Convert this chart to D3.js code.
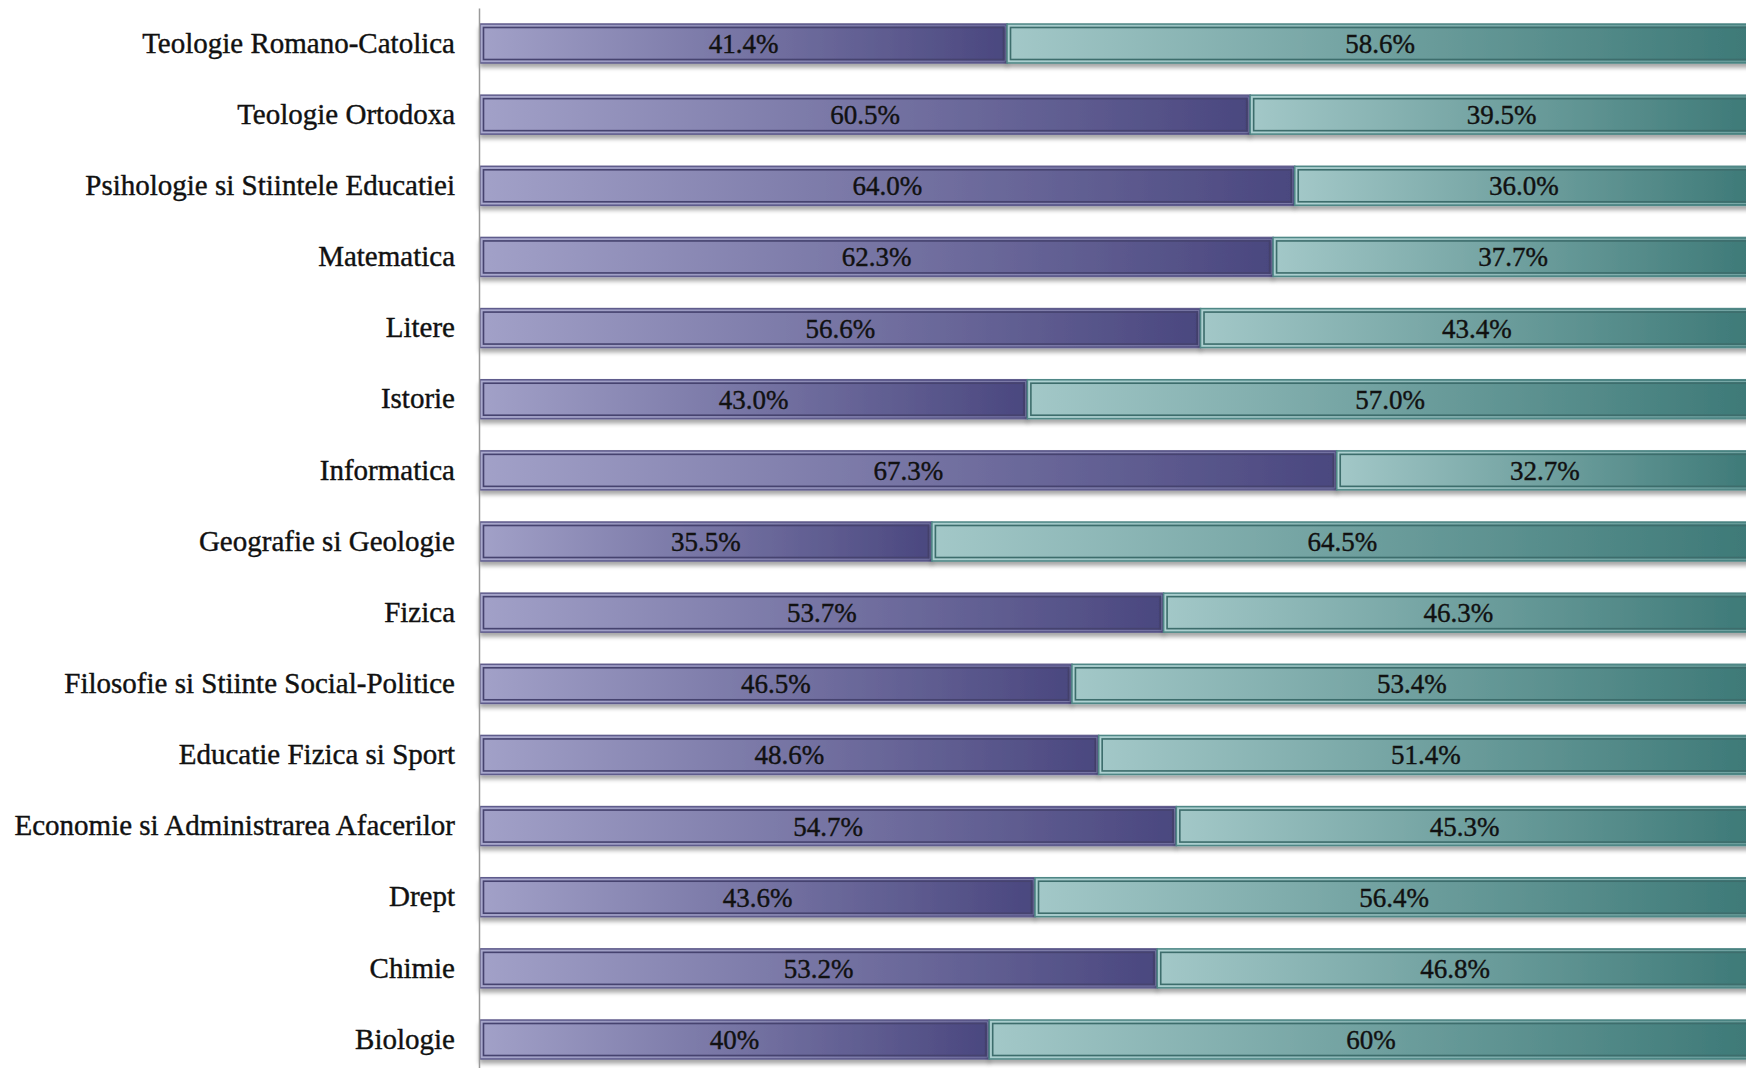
<!DOCTYPE html>
<html>
<head>
<meta charset="utf-8">
<script src="https://cdn.jsdelivr.net/npm/d3@7"></script>
<style>
  html, body { margin: 0; padding: 0; background: #fff; overflow: hidden; }
  svg { display: block; }
</style>
</head>
<body>
<div id="chart"></div>
<script>
const w = 1746;
const h = 1068;

const categories = [
  "Teologie Romano-Catolica", "Teologie Ortodoxa", "Psihologie si Stiintele Educatiei",
  "Matematica", "Litere", "Istorie", "Informatica", "Geografie si Geologie", "Fizica",
  "Filosofie si Stiinte Social-Politice", "Educatie Fizica si Sport",
  "Economie si Administrarea Afacerilor", "Drept", "Chimie", "Biologie"
];
const firstShare = [41.4, 60.5, 64.0, 62.3, 56.6, 43.0, 67.3, 35.5, 53.7, 46.5, 48.6, 54.7, 43.6, 53.2, 40];
const secondShare = [58.6, 39.5, 36.0, 37.7, 43.4, 57.0, 32.7, 64.5, 46.3, 53.4, 51.4, 45.3, 56.4, 46.8, 60];
const firstLabels = ["41.4%", "60.5%", "64.0%", "62.3%", "56.6%", "43.0%", "67.3%", "35.5%", "53.7%", "46.5%", "48.6%", "54.7%", "43.6%", "53.2%", "40%"];
const secondLabels = ["58.6%", "39.5%", "36.0%", "37.7%", "43.4%", "57.0%", "32.7%", "64.5%", "46.3%", "53.4%", "51.4%", "45.3%", "56.4%", "46.8%", "60%"];

const rows = categories.map((c, i) => ({
  cat: c, a: firstShare[i], b: secondShare[i], la: firstLabels[i], lb: secondLabels[i]
}));

const yScale = d3.scaleBand()
  .domain(categories)
  .range([8, 1075])
  .paddingInner(0.452)
  .paddingOuter(0.225);

const xScale = d3.scaleLinear()
  .domain([0, 100])
  .range([480, 1753]);

const svg = d3.select("#chart")
  .append("svg")
  .attr("width", w)
  .attr("height", h);

const defs = svg.append("defs");

const gradients = [
  { id: "gPurple", from: "#a2a1c8", to: "#4a477f" },
  { id: "gTeal", from: "#a3c8c8", to: "#3d7977" }
];
gradients.forEach((g) => {
  const lg = defs.append("linearGradient")
    .attr("id", g.id)
    .attr("x1", 0).attr("x2", 1).attr("y1", 0).attr("y2", 0);
  lg.append("stop").attr("offset", "0%").attr("stop-color", g.from);
  lg.append("stop").attr("offset", "100%").attr("stop-color", g.to);
});

const shadow = defs.append("filter")
  .attr("id", "shadow")
  .attr("x", "-2%").attr("y", "-20%")
  .attr("width", "104%").attr("height", "160%");
shadow.append("feDropShadow")
  .attr("dx", 0).attr("dy", 4)
  .attr("stdDeviation", 2)
  .attr("flood-color", "#000")
  .attr("flood-opacity", 0.35);

// segments: first series (purple) then second (teal)
const series = [
  { key: "a", label: "la", x0: (d) => 0, x1: (d) => d.a, fill: "url(#gPurple)", outer: "#5f5c8c", inner: "#46436f", hi: "#b8b7d8" },
  { key: "b", label: "lb", x0: (d) => d.a, x1: (d) => d.a + d.b, fill: "url(#gTeal)", outer: "#4f8786", inner: "#3d6d6c", hi: "#bfe0df" }
];

const bw = yScale.bandwidth();

series.forEach((s) => {
  const g = svg.append("g").attr("class", "series-" + s.key);

  g.selectAll("rect.outer")
    .data(rows)
    .enter()
    .append("rect")
    .attr("class", "outer")
    .attr("x", (d) => xScale(s.x0(d)))
    .attr("y", (d) => yScale(d.cat))
    .attr("width", (d) => xScale(s.x1(d)) - xScale(s.x0(d)))
    .attr("height", bw)
    .attr("fill", s.fill)
    .attr("stroke", s.outer)
    .attr("stroke-width", 1.5)
    .attr("filter", "url(#shadow)");

  g.selectAll("rect.hi")
    .data(rows)
    .enter()
    .append("rect")
    .attr("class", "hi")
    .attr("x", (d) => xScale(s.x0(d)) + 1.8)
    .attr("y", (d) => yScale(d.cat) + 1.8)
    .attr("width", (d) => xScale(s.x1(d)) - xScale(s.x0(d)) - 3.6)
    .attr("height", bw - 3.6)
    .attr("fill", "none")
    .attr("stroke", s.hi)
    .attr("stroke-opacity", 0.45)
    .attr("stroke-width", 1);

  g.selectAll("rect.inner")
    .data(rows)
    .enter()
    .append("rect")
    .attr("class", "inner")
    .attr("x", (d) => xScale(s.x0(d)) + 3.5)
    .attr("y", (d) => yScale(d.cat) + 3.5)
    .attr("width", (d) => xScale(s.x1(d)) - xScale(s.x0(d)) - 7)
    .attr("height", bw - 7)
    .attr("fill", "none")
    .attr("stroke", s.inner)
    .attr("stroke-width", 1.6);

  g.selectAll("text")
    .data(rows)
    .enter()
    .append("text")
    .text((d) => d[s.label])
    .attr("x", (d) => (xScale(s.x0(d)) + xScale(s.x1(d))) / 2)
    .attr("y", (d) => yScale(d.cat) + bw / 2)
    .attr("dy", "0.35em")
    .attr("text-anchor", "middle")
    .attr("font-family", "'Liberation Serif', serif")
    .attr("font-size", "27px")
    .attr("fill", "#111")
    .attr("stroke", "#111")
    .attr("stroke-width", 0.4);
});

const yAxis = d3.axisLeft(yScale).tickSize(0).tickPadding(24);

const axisG = svg.append("g")
  .attr("id", "y-axis")
  .attr("transform", "translate(479,0)")
  .call(yAxis);

axisG.select(".domain")
  .attr("stroke", "#9a9a9a")
  .attr("stroke-width", 1.5);

axisG.selectAll("text")
  .attr("font-family", "'Liberation Serif', serif")
  .attr("font-size", "29px")
  .attr("fill", "#111")
  .attr("stroke", "#111")
  .attr("stroke-width", 0.4);
</script>
</body>
</html>
